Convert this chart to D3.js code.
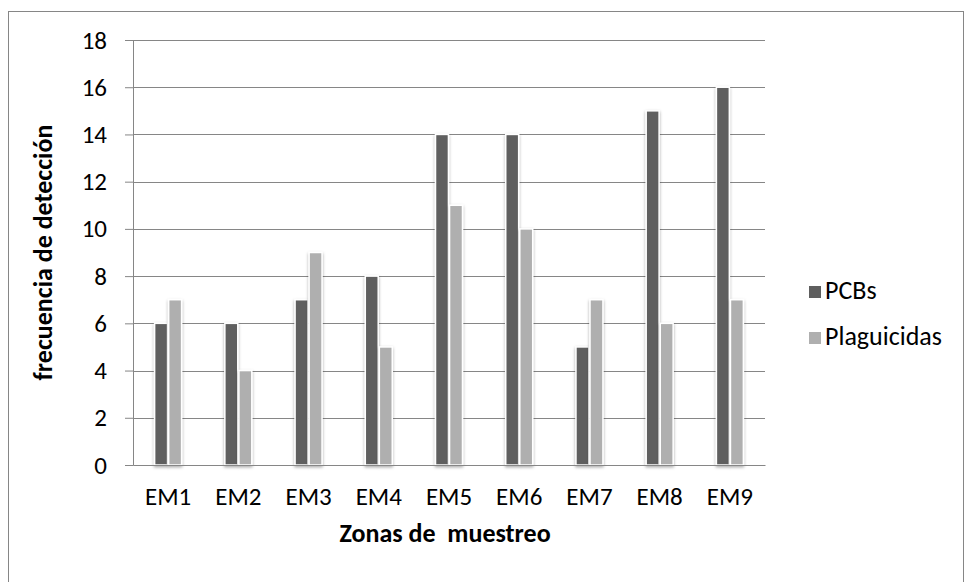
<!DOCTYPE html>
<html>
<head>
<meta charset="utf-8">
<script src="https://cdn.jsdelivr.net/npm/d3@7"></script>
<style>
  body { margin: 0; background: #fff; }
  svg text { font-family: Carlito, Calibri, "Open Sans", sans-serif; fill: #000; }
</style>
</head>
<body>
<script>
  /***** Data *****/
  var zonas = ["EM1", "EM2", "EM3", "EM4", "EM5", "EM6", "EM7", "EM8", "EM9"];
  var pcbs = [6, 6, 7, 8, 14, 14, 5, 15, 16];
  var plaguicidas = [7, 4, 9, 5, 11, 10, 7, 6, 7];
  var seriesNames = ["PCBs", "Plaguicidas"];
  var yTicks = [0, 2, 4, 6, 8, 10, 12, 14, 16, 18];

  /***** Configuration *****/
  var W = 965, H = 582;
  var margin = { top: 40, left: 133, right: 200, bottom: 117 };
  var width = W - margin.left - margin.right;
  var height = H - margin.top - margin.bottom;
  var font = "Carlito, Calibri, 'Open Sans', sans-serif";

  var svg = d3.select("body").append("svg")
    .attr("width", W).attr("height", H);

  var defs = svg.append("defs");
  var f = defs.append("filter").attr("id", "shadow")
    .attr("x", "-50%").attr("y", "-10%").attr("width", "200%").attr("height", "120%");
  f.append("feDropShadow").attr("dx", 0).attr("dy", 1.5).attr("stdDeviation", 1.6)
    .attr("flood-color", "#000").attr("flood-opacity", 0.35);

  // chart border
  svg.append("rect")
    .attr("x", 8.5).attr("y", 11.5).attr("width", 955).attr("height", 600)
    .attr("fill", "none").attr("stroke", "#868686").attr("stroke-width", 1);

  var g = svg.append("g")
    .attr("transform", "translate(" + margin.left + "," + margin.top + ")");

  /***** Scales *****/
  var x = d3.scaleBand().domain(zonas).range([0, width]).paddingInner(0).paddingOuter(0);
  var x1 = d3.scaleBand().domain(seriesNames).range([0, x.bandwidth()]).paddingInner(0.08).paddingOuter(1.54);
  var y = d3.scaleLinear().domain([0, 18]).range([height, 0]);
  var color = d3.scaleOrdinal().domain(seriesNames).range(["#5f5f5f", "#afafaf"]);

  // gridlines
  g.append("g").selectAll("line").data(yTicks.filter(function (d) { return d > 0; }))
    .enter().append("line")
    .attr("x1", 0).attr("x2", width)
    .attr("y1", function (d) { return Math.round(y(d)) + 0.5; })
    .attr("y2", function (d) { return Math.round(y(d)) + 0.5; })
    .attr("stroke", "#868686").attr("stroke-width", 1);

  // y axis
  var yAxis = g.append("g")
    .call(d3.axisLeft(y).tickValues(yTicks).tickSize(8).tickPadding(18));
  yAxis.select(".domain").attr("stroke", "#868686");
  yAxis.selectAll(".tick line").attr("stroke", "#868686");
  yAxis.selectAll("text").attr("font-size", 25).attr("fill", "#000").style("font-family", font);

  // bars
  var rows = zonas.map(function (z, i) {
    return { zona: z, vals: [{ s: "PCBs", v: pcbs[i] }, { s: "Plaguicidas", v: plaguicidas[i] }] };
  });
  var groups = g.append("g").selectAll("g").data(rows).enter().append("g")
    .attr("transform", function (d) { return "translate(" + x(d.zona) + ",0)"; });
  groups.selectAll("rect").data(function (d) { return d.vals; }).enter().append("rect")
    .attr("x", function (d) { return x1(d.s); })
    .attr("width", x1.bandwidth())
    .attr("y", function (d) { return y(d.v); })
    .attr("height", function (d) { return height - y(d.v); })
    .attr("fill", function (d) { return color(d.s); })
    .attr("stroke", "#fff").attr("stroke-width", 1.5)
    .attr("filter", "url(#shadow)");

  // x axis
  var xAxis = g.append("g").attr("transform", "translate(0," + height + ")")
    .call(d3.axisBottom(x).tickSize(0).tickPadding(22));
  xAxis.select(".domain").attr("stroke", "#868686");
  xAxis.selectAll("text").attr("font-size", 25).attr("fill", "#000").style("font-family", font);

  // axis titles
  svg.append("text")
    .attr("x", margin.left + width / 2 - 4).attr("y", 542)
    .attr("text-anchor", "middle").attr("font-size", 26).attr("font-weight", "bold")
    .attr("xml:space", "preserve")
    .text("Zonas de  muestreo");
  svg.append("text")
    .attr("transform", "translate(52," + (margin.top + height / 2) + ") rotate(-90)")
    .attr("text-anchor", "middle").attr("font-size", 26).attr("font-weight", "bold")
    .text("frecuencia de detección");

  // legend
  var legend = svg.append("g").attr("transform", "translate(809,286)");
  var items = legend.selectAll("g").data(seriesNames).enter().append("g")
    .attr("transform", function (d, i) { return "translate(0," + i * 46 + ")"; });
  items.append("rect").attr("width", 12).attr("height", 12)
    .attr("fill", function (d) { return color(d); });
  items.append("text").attr("x", 16).attr("y", 13)
    .attr("font-size", 26).text(function (d) { return d; });
</script>
</body>
</html>
